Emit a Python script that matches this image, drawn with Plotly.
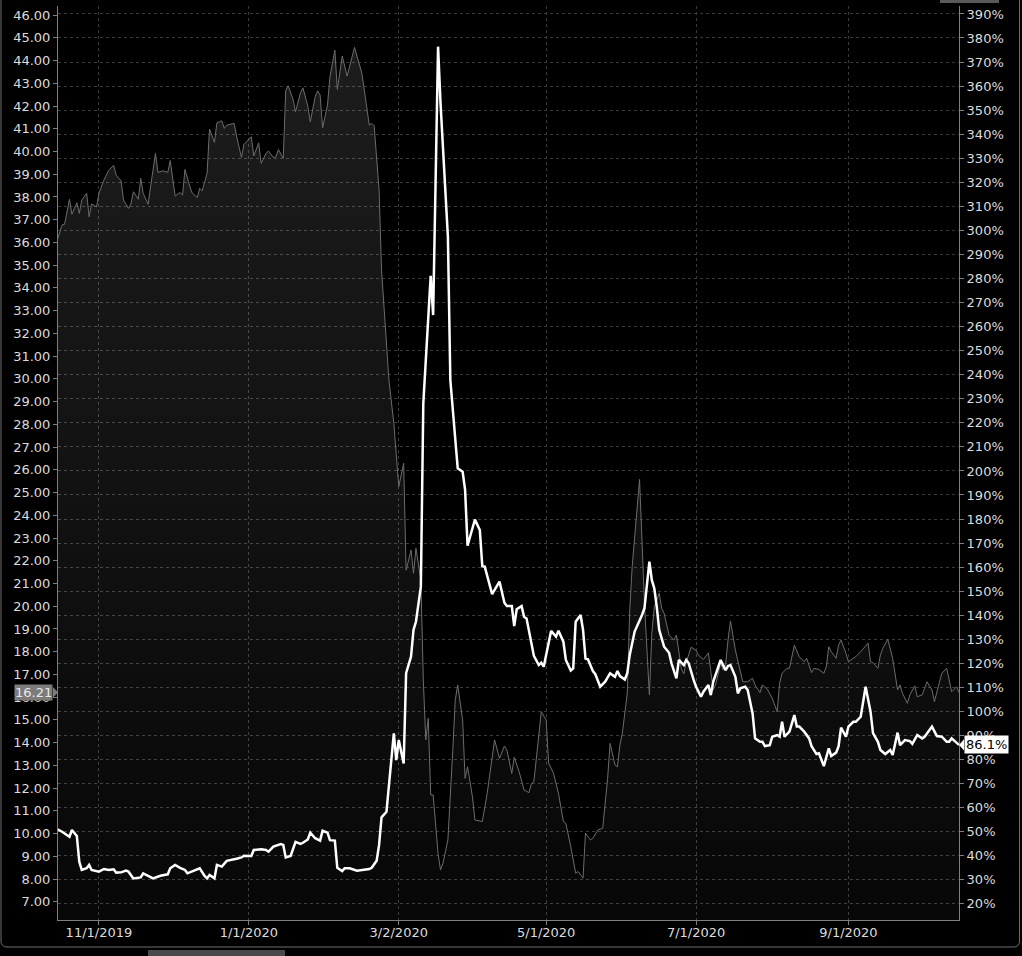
import pandas as pd
import plotly.graph_objects as go

# ---------------- data ----------------
BASE_DATE = "2019-10-15"  # day 0 of the window

# underlying price (left axis) – day offset from BASE_DATE / price
price_days = [0, 2, 3, 5, 6, 8, 9, 10, 12, 13,
              14, 16, 17, 19, 21, 23, 24, 26, 27, 29,
              30, 31, 33, 34, 35, 37, 38, 40, 41, 43,
              45, 46, 48, 50, 51, 52, 54, 55, 57, 58,
              59, 61, 62, 64, 65, 67, 68, 69, 72, 73,
              75, 76, 79, 80, 82, 83, 85, 86, 88, 89,
              90, 92, 93, 94, 96, 97, 99, 100, 102, 103,
              105, 106, 107, 108, 110, 111, 113, 114, 116, 118,
              121, 124, 125, 127, 128, 129, 131, 132, 135, 137,
              139, 141, 142, 144, 145, 146, 148, 149, 150, 151,
              152, 153, 155, 156, 157, 159, 161, 162, 163, 165,
              166, 167, 169, 170, 173, 175, 178, 179, 180, 182,
              183, 185, 186, 188, 190, 192, 193, 194, 196, 197,
              199, 200, 202, 204, 206, 207, 209, 211, 212, 214,
              215, 217, 218, 220, 222, 224, 225, 227, 228, 229,
              230, 232, 233, 234, 237, 238, 239, 241, 242, 243,
              245, 246, 247, 249, 251, 252, 254, 255, 256, 258,
              260, 261, 263, 265, 266, 267, 268, 270, 271, 272,
              273, 274, 276, 277, 279, 281, 283, 284, 286, 287,
              289, 291, 293, 294, 295, 297, 298, 300, 301, 302,
              304, 305, 307, 308, 310, 312, 313, 314, 315, 317,
              318, 319, 321, 322, 323, 325, 327, 330, 331, 332,
              334, 335, 336, 338, 339, 340, 342, 343, 344, 346,
              347, 349, 350, 352, 353, 354, 356, 357, 359, 360,
              362, 363, 364, 366, 367]
price_vals = [36.10, 36.77, 36.80, 37.90, 37.24, 37.75, 37.28, 37.86, 38.16, 37.13,
              37.69, 37.57, 38.16, 38.74, 39.18, 39.39, 38.96, 38.71, 37.86, 37.50,
              37.69, 38.23, 37.90, 38.82, 38.16, 37.68, 38.45, 39.92, 39.08, 39.15,
              39.08, 39.60, 38.04, 38.20, 38.08, 39.21, 38.45, 38.16, 37.98, 38.38,
              38.27, 39.04, 40.99, 40.40, 41.26, 41.35, 41.02, 41.16, 41.24, 40.68,
              39.74, 40.31, 40.65, 39.81, 40.38, 39.48, 39.92, 40.02, 39.74, 39.77,
              40.09, 39.70, 42.67, 42.89, 42.29, 41.75, 42.58, 42.80, 42.00, 41.31,
              42.41, 42.67, 42.48, 41.04, 42.04, 43.29, 44.46, 42.73, 44.20, 43.32,
              44.58, 43.44, 42.70, 41.16, 41.24, 41.13, 38.30, 34.79, 29.95, 28.04,
              25.26, 26.29, 21.59, 22.47, 21.45, 22.55, 21.15, 16.76, 14.12, 15.07,
              11.70, 11.70, 9.13, 8.40, 8.70, 9.72, 13.68, 15.88, 16.54, 15.00,
              12.43, 12.94, 11.62, 10.60, 10.53, 11.77, 14.12, 13.71, 13.31, 13.85,
              13.68, 12.65, 13.36, 12.72, 11.92, 11.80, 12.21, 12.29, 14.42, 15.36,
              15.00, 13.10, 12.65, 11.77, 10.53, 10.45, 9.43, 8.26, 8.33, 8.04,
              10.02, 9.72, 9.79, 10.16, 10.23, 12.43, 13.97, 13.02, 12.94, 13.90,
              14.42, 16.17, 19.83, 21.74, 25.58, 23.06, 20.13, 16.10, 18.81, 19.98,
              20.57, 19.91, 19.69, 18.73, 18.51, 18.73, 17.25, 17.03, 17.54, 18.20,
              18.06, 17.84, 17.66, 17.95, 17.12, 16.32, 16.58, 17.49, 17.20, 17.42,
              18.51, 19.35, 18.07, 17.64, 16.68, 16.68, 16.83, 16.54, 16.20, 16.54,
              16.35, 15.95, 15.36, 16.61, 17.05, 17.27, 17.27, 18.29, 18.07, 17.78,
              17.56, 17.71, 17.08, 17.27, 17.22, 17.05, 17.34, 18.22, 18.00, 17.71,
              18.29, 18.51, 17.93, 17.56, 17.64, 17.78, 18.00, 18.38, 17.56, 17.52,
              17.27, 17.85, 18.15, 18.55, 18.15, 17.71, 16.32, 16.54, 16.17, 15.73,
              16.10, 16.50, 16.02, 16.10, 16.39, 16.68, 16.32, 15.80, 16.64, 17.05,
              17.27, 16.68, 16.24, 16.46, 16.21]

# implied volatility (right axis, %) – day offset from BASE_DATE / IV
iv_days = [0, 2, 5, 6, 8, 9, 10, 12, 13, 14,
           17, 19, 21, 23, 24, 26, 28, 29, 31, 34,
           35, 37, 39, 42, 45, 46, 48, 50, 52, 53,
           54, 56, 58, 60, 61, 62, 64, 65, 66, 67,
           69, 71, 73, 75, 76, 78, 79, 80, 83, 85,
           86, 88, 89, 91, 92, 93, 95, 97, 99, 100,
           102, 103, 105, 107, 108, 110, 111, 113, 114, 116,
           117, 119, 122, 125, 127, 128, 130, 131, 132, 134,
           135, 137, 138, 139, 141, 142, 144, 145, 146, 148,
           149, 152, 153, 155, 156, 158, 159, 160, 161, 163,
           165, 166, 167, 169, 170, 172, 173, 174, 177, 180,
           182, 183, 185, 186, 187, 189, 190, 191, 194, 196,
           197, 198, 201, 203, 204, 206, 207, 209, 210, 211,
           213, 214, 215, 216, 218, 219, 221, 223, 225, 227,
           228, 229, 231, 232, 233, 235, 236, 238, 239, 241,
           242, 243, 244, 245, 247, 249, 250, 252, 253, 255,
           256, 257, 259, 260, 262, 263, 265, 266, 267, 269,
           270, 272, 273, 274, 276, 277, 278, 280, 281, 283,
           284, 286, 287, 288, 290, 291, 293, 294, 295, 296,
           298, 300, 301, 302, 304, 306, 307, 309, 310, 312,
           314, 315, 317, 318, 319, 321, 322, 324, 325, 327,
           328, 329, 331, 332, 334, 335, 337, 339, 340, 342,
           343, 345, 347, 348, 350, 352, 353, 356, 358, 360,
           362, 363, 364, 366, 367]
iv_vals = [51.0, 50.0, 47.9, 50.7, 48.2, 37.5, 34.1, 34.8, 36.2, 34.1,
           33.4, 34.5, 34.1, 34.4, 33.0, 33.1, 33.8, 33.4, 30.6, 31.0,
           32.7, 31.6, 30.6, 31.7, 32.3, 34.8, 36.2, 35.0, 34.1, 32.7,
           33.1, 34.1, 34.8, 31.6, 30.6, 32.0, 30.6, 36.2, 35.7, 35.5,
           37.9, 38.5, 38.8, 39.3, 40.0, 39.9, 39.9, 42.4, 42.7, 42.4,
           41.7, 43.8, 44.1, 44.9, 44.5, 39.3, 39.9, 45.8, 44.9, 45.4,
           46.8, 49.6, 47.3, 46.3, 50.4, 49.6, 46.5, 46.3, 35.0, 33.6,
           34.8, 34.8, 33.8, 34.1, 34.5, 35.0, 37.9, 44.5, 56.0, 58.3,
           70.0, 90.9, 79.8, 88.1, 78.4, 115.9, 122.8, 133.9, 137.3, 151.9,
           228.1, 281.1, 264.8, 376.4, 352.9, 318.2, 297.4, 237.8, 225.3, 201.1,
           199.7, 192.1, 168.9, 176.0, 179.8, 175.4, 160.4, 160.2, 148.8, 154.0,
           145.2, 143.8, 143.8, 135.5, 142.5, 143.8, 139.4, 138.7, 123.1, 119.3,
           120.3, 118.6, 133.5, 131.1, 133.6, 129.0, 121.4, 117.0, 117.9, 137.3,
           140.1, 133.9, 122.0, 121.7, 116.8, 115.5, 110.3, 112.4, 115.9, 114.4,
           116.8, 114.7, 113.3, 115.9, 123.5, 133.2, 135.3, 140.1, 142.9, 162.3,
           154.6, 151.2, 143.5, 133.9, 126.9, 124.4, 120.0, 113.8, 121.4, 119.3,
           121.4, 120.0, 113.1, 110.3, 106.1, 108.2, 111.0, 106.8, 112.4, 119.0,
           121.4, 117.2, 118.9, 119.3, 114.4, 107.5, 109.6, 110.3, 108.9, 99.2,
           88.8, 87.4, 87.4, 85.6, 86.0, 89.5, 90.2, 89.5, 95.7, 89.5,
           91.6, 98.5, 93.7, 93.7, 91.6, 88.8, 85.6, 82.3, 82.6, 77.3,
           84.7, 81.5, 82.9, 85.6, 93.3, 89.5, 93.7, 95.7, 95.7, 97.8,
           104.8, 110.3, 99.9, 91.0, 87.4, 84.0, 82.3, 84.0, 81.9, 91.2,
           86.0, 88.1, 87.7, 86.5, 90.2, 88.8, 89.5, 93.7, 89.8, 89.5,
           87.4, 87.4, 88.8, 86.9, 86.1]

price_ticks = list(range(7, 47))              # 7.00 ... 46.00
iv_ticks = list(range(20, 391, 10))           # 20% ... 390%
date_tick_vals = ["2019-11-01", "2020-01-01", "2020-03-02",
                  "2020-05-01", "2020-07-01", "2020-09-01"]
date_tick_text = ["11/1/2019", "1/1/2020", "3/2/2020",
                  "5/1/2020", "7/1/2020", "9/1/2020"]
last_price = 16.21
last_iv = 86.1
x_range = ["2019-10-15 08:00", "2020-10-16 00:00"]

# ---------------- figure ----------------
base = pd.Timestamp(BASE_DATE)
price_dates = base + pd.to_timedelta(price_days, unit="D")
iv_dates = base + pd.to_timedelta(iv_days, unit="D")

FONT = "DejaVu Sans"
FS = 13
TXT = "#dcdcdc"
AXIS = "#7f7f7f"
GRID = "#3a3a3a"

fig = go.Figure()
fig.add_trace(go.Scatter(
    x=price_dates, y=price_vals, mode="lines",
    line=dict(color="#6c6c6c", width=1),
    fill="tozeroy",
    fillgradient=dict(type="vertical",
                      colorscale=[[0, "rgba(255,255,255,0.03)"],
                                  [1, "rgba(255,255,255,0.115)"]],
                      start=6.2, stop=46),
    yaxis="y", hoverinfo="skip"))
fig.add_trace(go.Scatter(
    x=iv_dates, y=iv_vals, mode="lines",
    line=dict(color="#ffffff", width=2.5),
    yaxis="y2", hoverinfo="skip"))

# plot area in pixels (for decorations outside the plot area)
L, R, T, B = 58, 959, 6, 920
W, H = R - L, B - T


def px(xp):
    return (xp - L) / W


def py(yp):
    return (B - yp) / H


shapes = []
# outer rounded frame
r = 6
x0, x1, yb = px(1), px(1019.5), py(947)
ytop = py(-5)
rx, ry = r / W, r / H
shapes.append(dict(
    type="path", xref="paper", yref="paper",
    path=(f"M {x0},{ytop} L {x0},{yb + ry} Q {x0},{yb} {x0 + rx},{yb} "
          f"L {x1 - rx},{yb} Q {x1},{yb} {x1},{yb + ry} L {x1},{ytop}"),
    line=dict(color="#6e6e6e", width=1)))
# tab strip below frame
shapes.append(dict(type="rect", xref="paper", yref="paper",
                   x0=px(148), x1=px(285), y0=py(956), y1=py(950),
                   fillcolor="#4a4a4a", line=dict(width=0)))
# top bar
shapes.append(dict(type="rect", xref="paper", yref="paper",
                   x0=px(940), x1=px(999), y0=py(3), y1=py(-2),
                   fillcolor="#5a5a5a", line=dict(width=0)))
# arrow of the last price marker
shapes.append(dict(type="path", xref="paper", yref="y",
                   path=(f"M {px(53)},{last_price + 0.24} L {px(58)},{last_price} "
                         f"L {px(53)},{last_price - 0.24} Z"),
                   fillcolor="#7c7c7c", line=dict(width=0)))
# arrow of the last IV marker
shapes.append(dict(type="path", xref="paper", yref="y2",
                   path=(f"M {px(964)},{last_iv + 2.3} L {px(959)},{last_iv} "
                         f"L {px(964)},{last_iv - 2.3} Z"),
                   fillcolor="#ffffff", line=dict(width=0)))

annotations = [
    dict(xref="paper", yref="y", x=px(53), y=last_price,
         xanchor="right", yanchor="middle",
         text=f"{last_price:.2f}", showarrow=False,
         font=dict(family=FONT, size=FS, color="#e8e8e8"),
         bgcolor="#7c7c7c", borderpad=0),
    dict(xref="paper", yref="y2", x=px(964), y=last_iv,
         xanchor="left", yanchor="middle",
         text=f"{last_iv:.1f}%", showarrow=False,
         font=dict(family=FONT, size=FS, color="#000000"),
         bgcolor="#ffffff", borderpad=1),
]

fig.update_layout(
    width=1022, height=956,
    margin=dict(l=L, r=1022 - R, t=T, b=956 - B, pad=0),
    paper_bgcolor="#000000", plot_bgcolor="#000000",
    showlegend=False,
    font=dict(family=FONT, size=FS, color=TXT),
    xaxis=dict(type="date", range=x_range,
               tickmode="array", tickvals=date_tick_vals, ticktext=date_tick_text,
               showgrid=True, gridcolor=GRID, griddash="3px,3px", gridwidth=1,
               showline=True, linecolor=AXIS, linewidth=1,
               ticks="outside", ticklen=4, tickcolor=AXIS, ticklabelstandoff=-4,
               zeroline=False, tickfont=dict(family=FONT, size=FS, color=TXT)),
    yaxis=dict(range=[6.2, 46.4], tickmode="array", tickvals=price_ticks,
               ticktext=[f"{v:.2f}" for v in price_ticks], showgrid=False,
               showline=True, linecolor=AXIS, linewidth=1,
               ticks="outside", ticklen=4, tickcolor=AXIS, zeroline=False,
               tickfont=dict(family=FONT, size=FS, color=TXT)),
    yaxis2=dict(range=[13.3, 393.3], overlaying="y", side="right",
                tickmode="array", tickvals=iv_ticks,
                ticktext=[f"{v}%" for v in iv_ticks],
                showgrid=True, gridcolor=GRID, griddash="3px,3px", gridwidth=1,
                showline=True, linecolor=AXIS, linewidth=1,
                ticks="outside", ticklen=4, tickcolor=AXIS, zeroline=False,
                tickfont=dict(family=FONT, size=FS, color=TXT)),
    shapes=shapes,
    annotations=annotations,
)

fig.write_html("out.html", config={"displayModeBar": False},
               post_script="document.body.style.margin='0';")
